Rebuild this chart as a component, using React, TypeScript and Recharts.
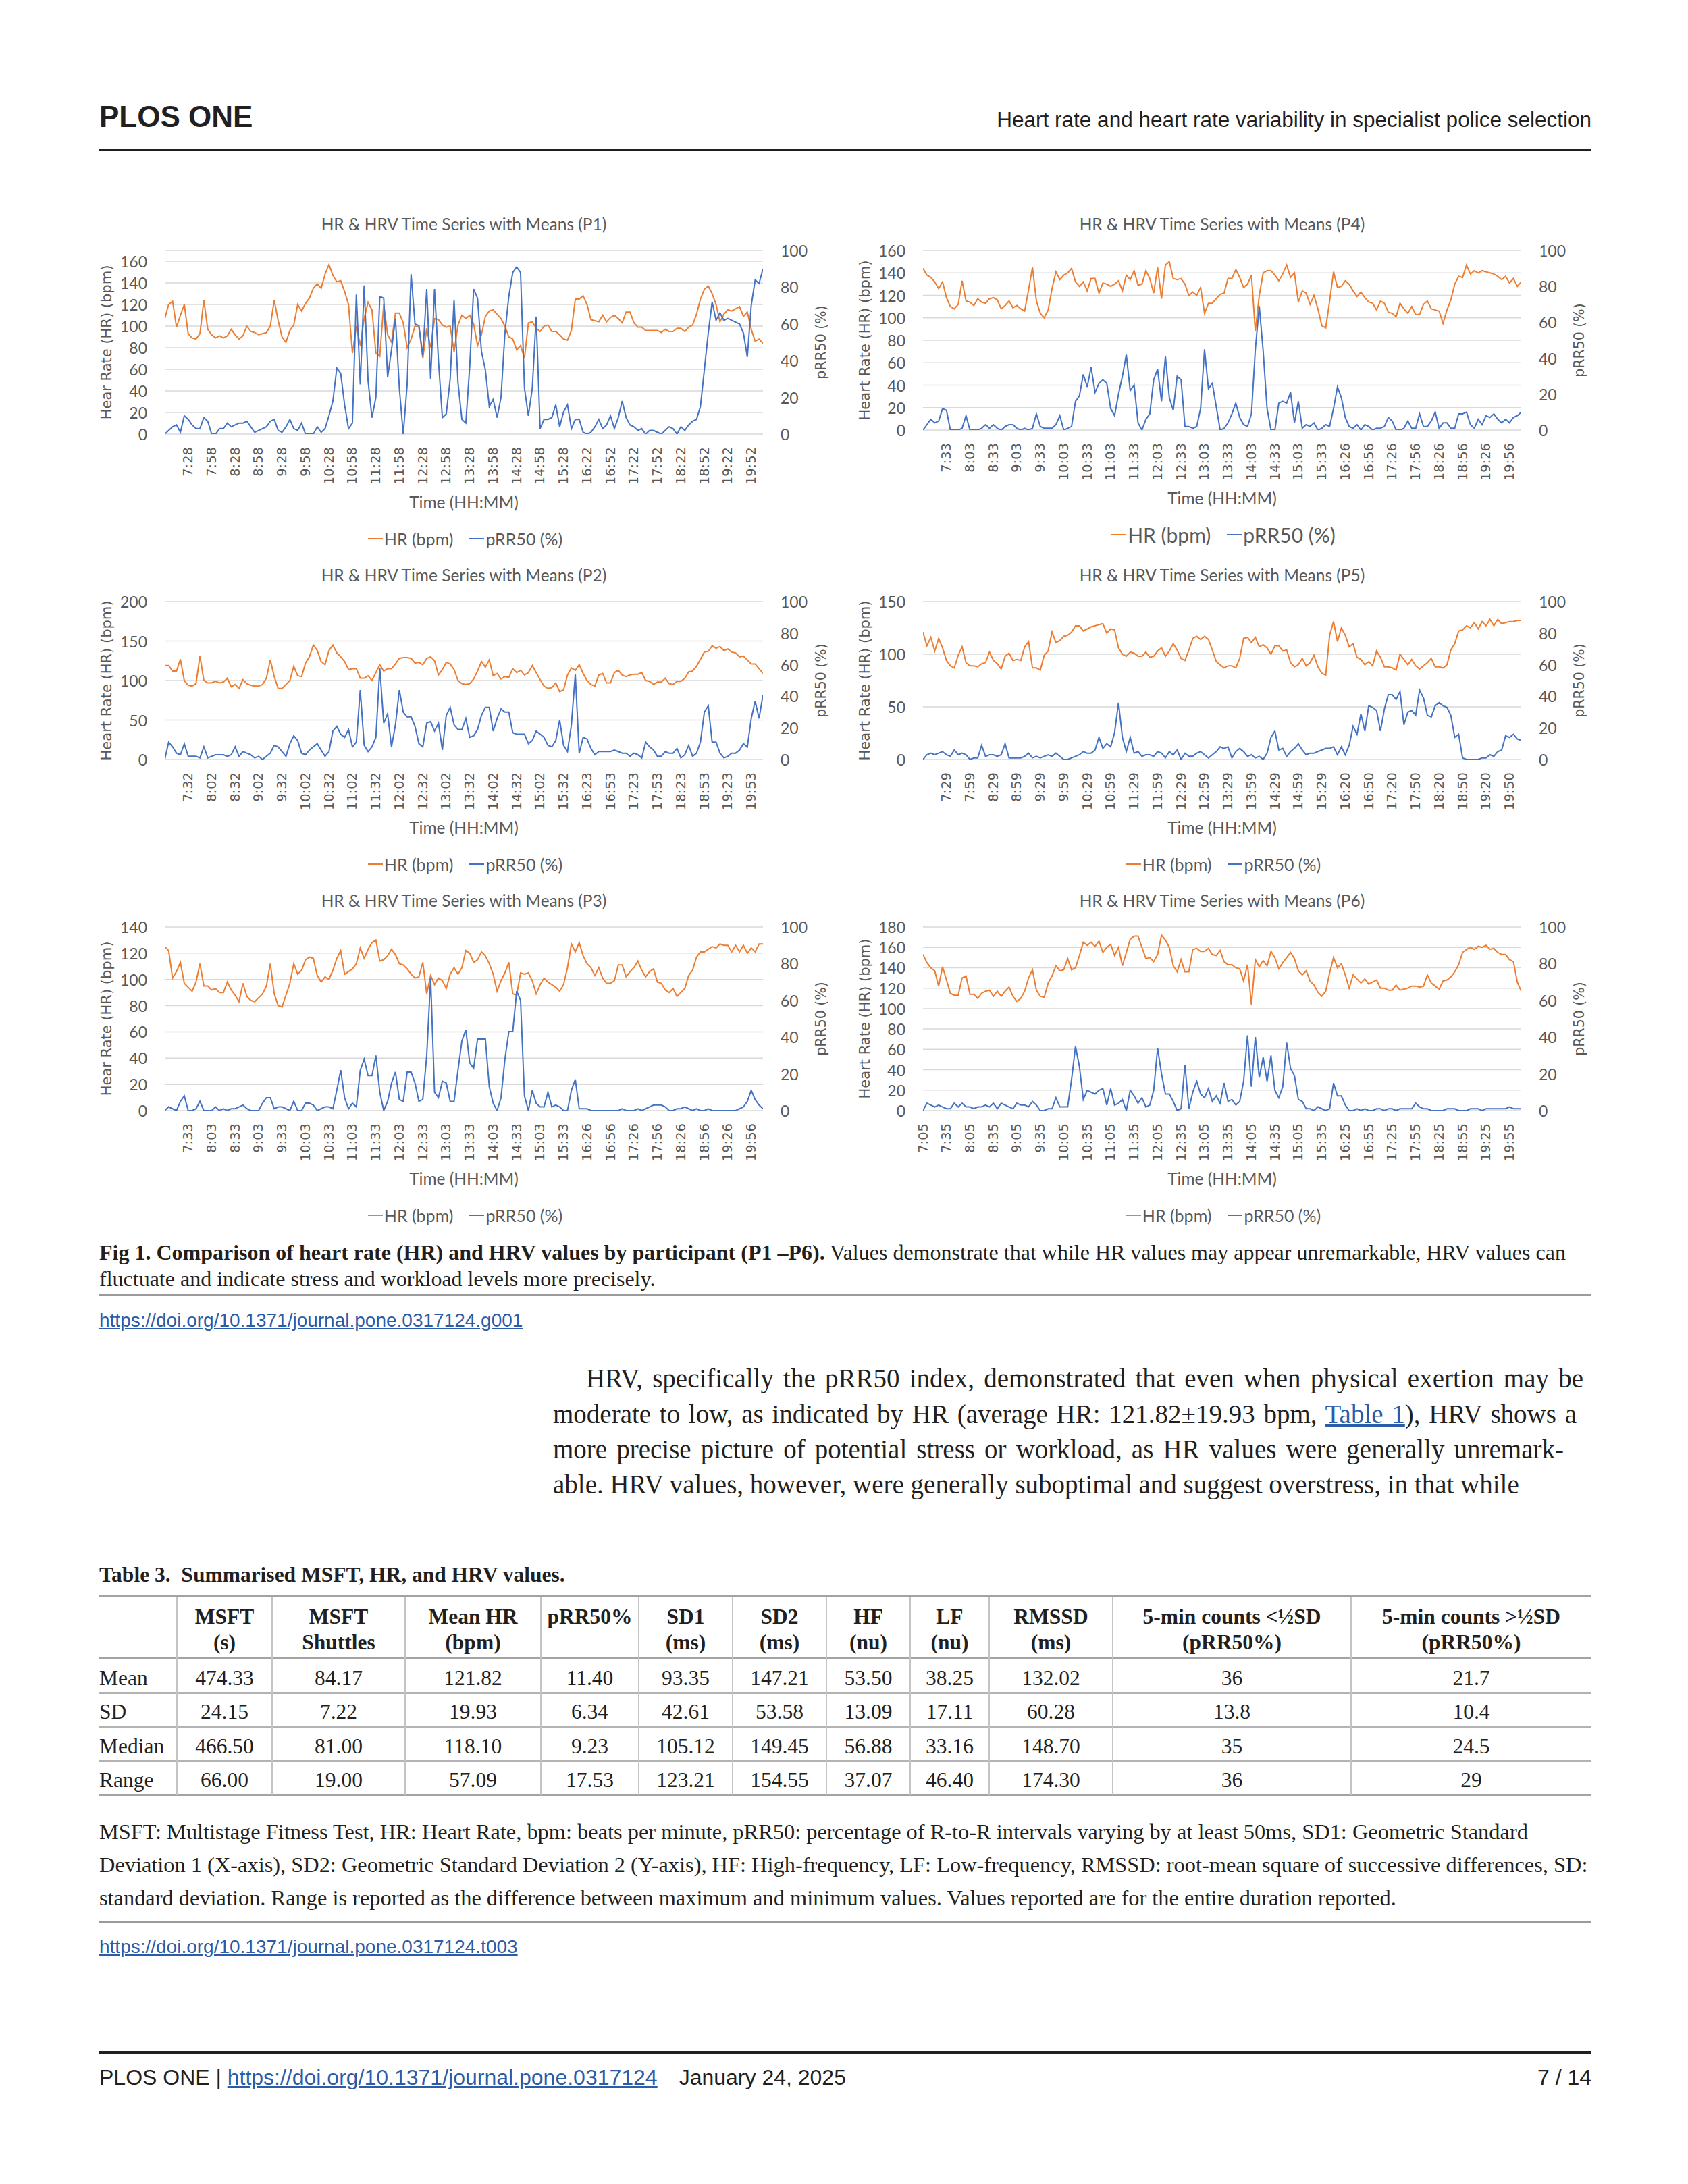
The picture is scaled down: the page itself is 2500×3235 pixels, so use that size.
import React from 'react';
import { LineChart, Line, XAxis, YAxis, CartesianGrid, Legend } from 'recharts';

const SANS = '"Liberation Sans", Arial, Helvetica, sans-serif';
const SERIF = '"Liberation Serif", "Times New Roman", Times, serif';
const CHART_FONT = 'Lato, "Open Sans", sans-serif';
const WIDE_FONT = '"DejaVu Sans", Verdana, sans-serif';
const INK = '#231f20';
const LINK = '#2c5ca8';
const HR_COLOR = '#ED7D31';
const PRR_COLOR = '#4472C4';
const AXIS_TEXT = '#595959';
const GRID = '#D9D9D9';

// ---------------- chart data ----------------
const P1_TIMES = ['7:28','7:58','8:28','8:58','9:28','9:58','10:28','10:58','11:28','11:58','12:28','12:58','13:28','13:58','14:28','14:58','15:28','16:22','16:52','17:22','17:52','18:22','18:52','19:22','19:52'];
const P1_HR = [107,120,123,99,110,120, 93,89,88,93,124,97, 92,89,91,89,91,97, 92,88,91,100,95,94, 92,93,94,100,124,105, 90,85,96,101,120,114, 121,126,135,139,135,148, 157,147,141,142,132,120, 75,100,82,107,122,115, 75,72,120,92,85,112, 112,103,80,88,100,99, 70,98,80,107,106,101, 99,100,76,101,110,107, 110,102,82,92,109,114, 115,111,107,100,90,88, 78,82,70,103,104,98, 95,100,101,95,95,92, 88,87,96,125,125,128, 120,106,105,104,110,104, 108,110,107,103,113,113, 103,99,99,96,96,96, 96,94,97,95,95,98, 98,95,99,101,111,125, 134,137,130,120,104,111, 115,114,116,118,109,113, 97,86,88,84];
const P1_PRR = [0,2,4,5,1,10, 8,5,3,3,9,7, 0,0,3,3,6,4, 5,6,6,7,4,1, 2,3,4,7,8,2, 1,4,8,3,2,6, 0,0,0,4,1,3, 10,18,36,33,16,3, 6,76,27,81,29,9, 20,75,74,31,46,63, 25,0,27,87,60,59, 43,79,30,79,40,9, 11,30,73,28,8,6, 37,79,74,45,35,15, 19,9,20,55,75,88, 91,88,25,10,25,64, 3,8,8,9,16,4, 12,16,3,8,8,1, 0,1,4,8,3,5, 10,3,9,18,9,5, 4,2,3,0,2,2, 1,0,2,4,3,0, 4,2,5,7,8,15, 35,55,72,62,66,62, 63,62,61,60,55,42, 70,84,82,90];

const P4_TIMES = ['7:33','8:03','8:33','9:03','9:33','10:03','10:33','11:03','11:33','12:03','12:33','13:03','13:33','14:03','14:33','15:03','15:33','16:26','16:56','17:26','17:56','18:26','18:56','19:26','19:56'];
const P4_HR = [144,138,136,132,126,132, 118,110,108,112,133,115, 114,111,117,114,113,117, 118,116,108,111,115,109, 111,108,106,125,145,115, 104,100,107,126,141,134, 138,140,144,132,128,132, 124,135,135,122,131,130, 128,130,133,124,138,134, 142,129,130,142,135,122, 145,117,147,150,135,134, 135,130,120,123,120,127, 104,113,113,117,121,122, 135,135,143,136,127,130, 138,88,120,140,142,142, 138,133,139,147,136,140, 114,124,122,112,120,108, 93,91,115,141,127,128, 133,130,124,119,123,118, 114,113,107,115,113,105, 104,101,113,108,104,110, 103,103,112,115,108,107, 106,95,107,116,130,137, 136,147,139,142,140,142, 141,140,139,137,134,137, 131,135,128,132];
const P4_PRR = [0,3,6,4,5,12, 11,0,0,0,1,8, 0,0,0,1,3,1, 3,1,0,2,3,3, 1,0,1,0,1,9, 2,1,1,1,3,8, 0,1,2,16,19,31, 24,35,21,26,28,26, 12,8,20,30,42,22, 25,4,0,6,9,28, 34,16,41,18,11,30, 28,2,2,1,2,12, 45,23,26,13,0,1, 4,9,15,7,3,2, 9,45,69,44,12,0, 0,15,16,15,21,4, 16,1,3,2,4,0, 1,3,2,12,24,18, 7,2,1,3,0,3, 2,0,1,1,2,7, 5,0,0,1,5,1, 1,9,2,2,5,10, 1,4,4,1,1,9, 9,10,3,1,6,3, 8,7,9,6,4,6, 4,7,8,10];

const P2_TIMES = ['7:32','8:02','8:32','9:02','9:32','10:02','10:32','11:02','11:32','12:02','12:32','13:02','13:32','14:02','14:32','15:02','15:32','16:23','16:53','17:23','17:53','18:23','18:53','19:23','19:53'];
const P2_HR = [119,119,112,112,127,100, 94,93,96,131,100,97, 97,99,97,98,103,92, 95,90,101,96,94,93, 93,95,103,126,105,90, 90,95,100,118,106,105, 122,130,145,138,124,120, 138,145,135,130,124,114, 115,115,103,103,106,100, 110,120,112,115,115,121, 128,129,129,128,122,123, 120,128,130,125,107,114, 123,121,114,100,96,95, 96,102,112,124,117,126, 106,109,102,105,104,115, 110,113,107,110,119,110, 101,93,90,91,97,86, 88,107,116,113,120,109, 100,95,93,107,109,97, 97,110,113,107,105,107, 108,108,110,100,99,95, 98,98,103,96,95,99, 99,103,111,112,118,127, 136,137,144,141,143,138, 140,136,135,130,131,126, 121,121,115,109];
const P2_PRR = [0,11,8,4,3,10, 2,2,2,1,8,1, 2,3,3,3,2,3, 8,2,5,4,3,1, 2,0,2,4,9,8, 5,2,10,15,12,4, 3,6,8,10,6,2, 5,18,21,16,14,19, 8,11,44,9,5,8, 14,58,23,29,8,22, 44,30,27,27,21,10, 8,23,24,18,23,6, 28,33,22,19,19,26, 14,15,19,28,33,33, 18,26,32,30,30,17, 16,16,16,10,12,18, 16,14,9,8,12,25, 9,5,22,54,4,14, 13,7,3,5,5,5, 5,6,5,4,4,2, 4,3,1,11,8,6, 2,2,5,4,4,7, 1,3,9,2,4,11, 30,34,11,11,4,1, 2,4,4,6,10,8, 26,37,26,41];

const P5_TIMES = ['7:29','7:59','8:29','8:59','9:29','9:59','10:29','10:59','11:29','11:59','12:29','12:59','13:29','13:59','14:29','14:59','15:29','16:20','16:50','17:20','17:50','18:20','18:50','19:20','19:50'];
const P5_HR = [121,108,116,103,115,106, 94,89,87,99,107,92, 89,89,88,91,92,102, 94,91,86,98,101,94, 95,94,107,112,87,87, 85,99,103,121,111,113, 117,118,121,127,127,122, 124,126,127,128,129,120, 124,123,106,100,98,102, 101,98,98,102,97,98, 103,106,98,103,110,104, 96,94,104,115,117,114, 117,114,104,93,90,87, 89,89,87,96,115,116, 111,116,107,109,106,100, 108,108,103,104,92,88, 90,96,89,92,99,88, 82,80,118,131,112,125, 118,107,110,97,95,90, 93,89,103,97,88,88, 87,85,100,95,90,95, 89,86,89,92,96,88, 88,87,90,104,110,122, 123,127,125,130,124,131, 127,133,127,133,129,130, 131,131,132,132];
const P5_PRR = [0,3,4,3,4,5, 3,2,6,3,4,3, 0,1,1,9,2,3, 3,2,3,10,1,1, 1,1,2,4,1,2, 1,2,3,2,4,2, 0,0,1,2,3,5, 4,4,6,14,7,10, 8,17,36,14,5,14, 4,5,2,3,3,2, 5,4,1,5,3,6, 0,4,2,2,4,5, 3,1,3,5,8,7, 8,1,5,7,5,2, 3,1,2,0,4,14, 18,6,7,2,5,7, 10,6,3,4,4,5, 6,7,7,8,3,8, 3,9,21,16,29,18, 34,33,31,18,32,41, 41,38,43,22,30,31, 28,44,39,28,27,34, 36,34,33,28,14,16, 1,0,0,0,0,1, 1,3,2,5,6,15, 14,16,13,12];

const P3_TIMES = ['7:33','8:03','8:33','9:03','9:33','10:03','10:33','11:03','11:33','12:03','12:33','13:03','13:33','14:03','14:33','15:03','15:33','16:26','16:56','17:26','17:56','18:26','18:56','19:26','19:56'];
const P3_HR = [125,122,101,106,113,97, 94,91,98,112,95,95, 92,93,90,90,98,92, 88,83,97,87,84,83, 86,89,95,112,89,80, 79,88,97,112,104,107, 115,117,116,103,98,102, 100,107,116,122,104,106, 108,112,124,116,123,128, 130,114,115,118,123,119, 112,111,108,104,101,102, 113,89,103,96,101,99, 93,104,109,104,109,122, 120,113,115,121,118,112, 104,91,99,105,113,89, 88,105,104,105,99,89, 96,101,98,96,94,91, 96,109,127,121,128,118, 112,109,103,109,101,97, 97,99,111,111,102,106, 109,114,107,102,106,108, 98,97,92,90,93,87, 90,93,103,107,117,121, 121,123,125,124,127,126, 126,121,126,121,126,120, 124,121,127,127];
const P3_PRR = [0,2,1,0,5,8,0,0,1,5, 0,0,0,2,0,1,0,1,1,2, 3,1,0,0,0,4,7,7,1,2, 2,1,0,5,0,0,4,4,3,0, 1,2,2,1,11,22,7,1,4,2, 22,28,19,19,30,10,0,5,15,21, 6,5,21,21,15,5,6,30,72,10, 7,16,15,5,5,22,38,44,26,23, 39,39,39,13,4,0,7,28,43,43, 65,60,8,0,11,4,2,2,10,2, 3,2,0,0,11,17,1,1,1,0, 0,0,0,0,0,0,0,1,0,0, 0,1,0,1,2,3,3,3,2,0, 0,1,1,2,1,0,1,0,0,1, 0,0,0,0,0,0,0,1,2,5, 11,6,3,1];

const P6_TIMES = ['7:05','7:35','8:05','8:35','9:05','9:35','10:05','10:35','11:05','11:35','12:05','12:35','13:05','13:35','14:05','14:35','15:05','15:35','16:25','16:55','17:25','17:55','18:25','18:55','19:25','19:55'];
const P6_HR = [153,145,140,137,122,141, 128,115,113,113,130,132, 114,114,110,115,117,118, 112,117,112,117,121,112, 107,110,117,130,138,118, 112,111,125,132,142,137, 138,149,138,140,152,165, 162,165,161,166,155,160, 163,152,160,142,155,168, 171,171,160,149,150,146, 153,172,167,160,142,136, 148,136,136,158,159,156, 156,159,153,152,157,146, 143,143,140,139,127,143, 104,148,141,147,142,156, 150,139,145,150,155,149, 137,133,137,127,123,116, 112,117,135,150,140,144, 133,120,133,129,125,129, 124,126,128,120,120,118, 118,123,118,119,120,122, 122,121,122,133,125,122, 119,127,128,131,136,143, 155,158,160,158,161,160, 162,158,159,155,153,153, 148,146,126,117];
const P6_PRR = [0,4,3,2,3,2, 1,1,4,2,4,2, 2,1,2,2,3,2, 4,1,4,3,2,1, 4,3,3,2,5,3, 0,0,1,1,7,2, 2,2,17,35,24,6, 11,10,9,11,12,3, 12,3,4,6,0,11, 8,4,7,2,3,11, 34,20,9,9,5,0, 1,25,1,10,16,9, 7,12,5,8,4,15, 5,6,3,5,16,41, 13,40,18,29,16,30, 11,7,13,37,23,19, 6,5,1,1,0,2, 1,0,1,15,8,8, 3,0,0,1,0,1, 0,0,1,1,0,1, 1,0,1,1,1,1, 4,2,1,1,0,0, 0,0,1,1,1,0, 0,0,1,1,1,0, 1,1,1,1,1,1, 2,1,1,1];

const HR_TICKS_P1 = [0, 20, 40, 60, 80, 100, 120, 140, 160];
const HR_TICKS_P4 = [0, 20, 40, 60, 80, 100, 120, 140, 160];
const HR_TICKS_P2 = [0, 50, 100, 150, 200];
const HR_TICKS_P5 = [0, 50, 100, 150];
const HR_TICKS_P3 = [0, 20, 40, 60, 80, 100, 120, 140];
const HR_TICKS_P6 = [0, 20, 40, 60, 80, 100, 120, 140, 160, 180];
const PRR_TICKS = [0, 20, 40, 60, 80, 100];

// ---------------- table data ----------------
const TABLE_HEAD = [
  ['MSFT', '(s)'], ['MSFT', 'Shuttles'], ['Mean HR', '(bpm)'], ['pRR50%', ''], ['SD1', '(ms)'], ['SD2', '(ms)'],
  ['HF', '(nu)'], ['LF', '(nu)'], ['RMSSD', '(ms)'], ['5-min counts <½SD', '(pRR50%)'], ['5-min counts >½SD', '(pRR50%)'],
];
const ROW_LABELS = ['Mean', 'SD', 'Median', 'Range'];
const ROW_MEAN = ['474.33', '84.17', '121.82', '11.40', '93.35', '147.21', '53.50', '38.25', '132.02', '36', '21.7'];
const ROW_SD = ['24.15', '7.22', '19.93', '6.34', '42.61', '53.58', '13.09', '17.11', '60.28', '13.8', '10.4'];
const ROW_MEDIAN = ['466.50', '81.00', '118.10', '9.23', '105.12', '149.45', '56.88', '33.16', '148.70', '35', '24.5'];
const ROW_RANGE = ['66.00', '19.00', '57.09', '17.53', '123.21', '154.55', '37.07', '46.40', '174.30', '36', '29'];

// ---------------- layout ----------------
const PANELS = [
  { title: 'HR & HRV Time Series with Means (P1)', yTitle: 'Hear Rate (HR) (bpm)', hr: P1_HR, prr: P1_PRR, times: P1_TIMES, first: 6, hrMax: 170, hrTicks: HR_TICKS_P1, left: 134, top: 311, plotH: 272, legendFs: 25 },
  { title: 'HR & HRV Time Series with Means (P4)', yTitle: 'Heart Rate (HR) (bpm)', hr: P4_HR, prr: P4_PRR, times: P4_TIMES, first: 6, hrMax: 160, hrTicks: HR_TICKS_P4, left: 1257, top: 311, plotH: 266, legendFs: 30 },
  { title: 'HR & HRV Time Series with Means (P2)', yTitle: 'Heart Rate (HR) (bpm)', hr: P2_HR, prr: P2_PRR, times: P2_TIMES, first: 6, hrMax: 200, hrTicks: HR_TICKS_P2, left: 134, top: 831, plotH: 234, legendFs: 25 },
  { title: 'HR & HRV Time Series with Means (P5)', yTitle: 'Heart Rate (HR) (bpm)', hr: P5_HR, prr: P5_PRR, times: P5_TIMES, first: 6, hrMax: 150, hrTicks: HR_TICKS_P5, left: 1257, top: 831, plotH: 234, legendFs: 25 },
  { title: 'HR & HRV Time Series with Means (P3)', yTitle: 'Hear Rate (HR) (bpm)', hr: P3_HR, prr: P3_PRR, times: P3_TIMES, first: 6, hrMax: 140, hrTicks: HR_TICKS_P3, left: 134, top: 1313, plotH: 272, legendFs: 25 },
  { title: 'HR & HRV Time Series with Means (P6)', yTitle: 'Heart Rate (HR) (bpm)', hr: P6_HR, prr: P6_PRR, times: P6_TIMES, first: 0, hrMax: 180, hrTicks: HR_TICKS_P6, left: 1257, top: 1313, plotH: 272, legendFs: 25 },
];

const CW = 1110, ML = 110, MR = 114, MT = 60, XH = 136, LH = 38, MB = 8;

function Panel({ p }: { p: any }) {
  const H = MT + p.plotH + XH + LH + MB;
  const plotL = ML;
  const plotR = CW - MR;
  const plotB = MT + p.plotH;
  const n = Math.max(p.hr.length, p.prr.length);
  const rows = Array.from({ length: n }, (_, i) => ({ i, hr: p.hr[i], prr: p.prr[i] }));
  const tickIdx: number[] = p.times.map((_: string, k: number) => p.first + 6 * k);
  const labelOf: Record<number, string> = {};
  tickIdx.forEach((t, k) => { labelOf[t] = p.times[k]; });

  const XTick = (props: any) => {
    const x = props.x;
    const y = plotB + 19;
    return (
      <text x={x} y={y} transform={`rotate(-90 ${x} ${y})`} textAnchor="end" dominantBaseline="central"
        fill={AXIS_TEXT} fontSize={19.5} fontFamily={WIDE_FONT}>{labelOf[props.payload.value]}</text>
    );
  };
  const LTick = (props: any) => (
    <text x={plotL - 26} y={props.y} textAnchor="end" dominantBaseline="central" fill={AXIS_TEXT} fontSize={23} fontFamily={CHART_FONT}>{props.payload.value}</text>
  );
  const RTick = (props: any) => (
    <text x={plotR + 26} y={props.y} textAnchor="start" dominantBaseline="central" fill={AXIS_TEXT} fontSize={23} fontFamily={CHART_FONT}>{props.payload.value}</text>
  );
  const midY = MT + p.plotH / 2;
  const LegendBox = (props: any) => {
    const items = props.payload || [];
    return (
      <div style={{ height: LH, display: 'flex', justifyContent: 'center', alignItems: 'center', gap: 24, fontFamily: CHART_FONT, fontSize: p.legendFs, color: AXIS_TEXT }}>
        {items.map((it: any) => (
          <div key={it.value} style={{ display: 'flex', alignItems: 'center' }}>
            <span style={{ display: 'inline-block', width: 22, height: 2.5, background: it.color, marginRight: 2 }} />
            <span>{it.value}</span>
          </div>
        ))}
      </div>
    );
  };

  return (
    <div style={{ position: 'absolute', left: p.left, top: p.top, width: CW, height: H }}>
      <div style={{ position: 'absolute', left: plotL, width: plotR - plotL, top: 4, height: 34, lineHeight: '34px', textAlign: 'center', fontFamily: CHART_FONT, fontSize: 24.5, color: AXIS_TEXT }}>{p.title}</div>
      <LineChart width={CW} height={H} data={rows} margin={{ top: MT, right: 0, bottom: MB, left: 0 }}>
        <CartesianGrid vertical={false} stroke={GRID} strokeWidth={1.5} />
        <XAxis dataKey="i" type="number" domain={[0, 153]} ticks={tickIdx} interval={0} height={XH}
          tickLine={false} axisLine={false} tick={XTick} allowDataOverflow
          label={() => (
            <text x={(plotL + plotR) / 2} y={plotB + 100} textAnchor="middle" dominantBaseline="central" fill={AXIS_TEXT} fontSize={24.5} fontFamily={CHART_FONT}>Time (HH:MM)</text>
          )} />
        <YAxis orientation="left" width={ML} domain={[0, p.hrMax]} ticks={p.hrTicks} interval={0}
          tickLine={false} axisLine={false} tick={LTick} allowDataOverflow
          label={() => (
            <text x={plotL - 86} y={midY} transform={`rotate(-90 ${plotL - 86} ${midY})`} textAnchor="middle" dominantBaseline="central" fill={AXIS_TEXT} fontSize={21} fontFamily={WIDE_FONT}>{p.yTitle}</text>
          )} />
        <YAxis yAxisId="prr" orientation="right" width={MR} domain={[0, 100]} ticks={PRR_TICKS} interval={0}
          tickLine={false} axisLine={false} tick={RTick} allowDataOverflow
          label={() => (
            <text x={plotR + 86} y={midY} transform={`rotate(-90 ${plotR + 86} ${midY})`} textAnchor="middle" dominantBaseline="central" fill={AXIS_TEXT} fontSize={20.5} fontFamily={WIDE_FONT}>pRR50 (%)</text>
          )} />
        <Line type="linear" dataKey="hr" name="HR (bpm)" stroke={HR_COLOR} strokeWidth={2} dot={false} activeDot={false} isAnimationActive={false} />
        <Line yAxisId="prr" type="linear" dataKey="prr" name="pRR50 (%)" stroke={PRR_COLOR} strokeWidth={2} dot={false} activeDot={false} isAnimationActive={false} />
        <Legend verticalAlign="bottom" align="center" content={LegendBox} />
      </LineChart>
    </div>
  );
}

function T({ x, y, size, family = SERIF, weight = 400, color = INK, right = false, width, justify = false, children }: any) {
  const style: any = {
    position: 'absolute', top: y - size * 0.84, fontSize: size, lineHeight: `${size}px`,
    fontFamily: family, fontWeight: weight, color, whiteSpace: justify ? 'normal' : 'pre',
  };
  if (right) style.right = 2500 - x; else style.left = x;
  if (width) style.width = width;
  if (justify) { style.textAlign = 'justify'; style.textAlignLast = 'justify'; }
  return <div style={style}>{children}</div>;
}

function Rule({ y, h, color, x1 = 147, x2 = 2357 }: any) {
  return <div style={{ position: 'absolute', left: x1, top: y, width: x2 - x1, height: h, background: color }} />;
}

const COL_EDGES = [147, 262, 403, 600, 801, 946, 1085, 1224, 1348, 1465, 1648, 2001, 2357];
const ROW_BASE = [2496, 2546, 2597, 2647];
const ROW_LINES = [2506, 2557, 2607];
const TFS = 31.5;

function Table3() {
  const rows = [ROW_MEAN, ROW_SD, ROW_MEDIAN, ROW_RANGE];
  const cells: any[] = [];
  TABLE_HEAD.forEach((h, c) => {
    const cx = (COL_EDGES[c + 1] + COL_EDGES[c + 2]) / 2;
    h.forEach((line, li) => {
      if (!line) return;
      cells.push(
        <div key={`h${c}-${li}`} style={{ position: 'absolute', left: cx - 200, width: 400, textAlign: 'center', top: (li === 0 ? 2405 : 2443) - TFS * 0.84, fontSize: TFS, lineHeight: `${TFS}px`, fontFamily: SERIF, fontWeight: 700, color: INK, whiteSpace: 'nowrap' }}>{line}</div>
      );
    });
  });
  rows.forEach((r, ri) => {
    cells.push(<T key={`l${ri}`} x={147} y={ROW_BASE[ri]} size={TFS}>{ROW_LABELS[ri]}</T>);
    r.forEach((v, c) => {
      const cx = (COL_EDGES[c + 1] + COL_EDGES[c + 2]) / 2;
      cells.push(
        <div key={`c${ri}-${c}`} style={{ position: 'absolute', left: cx - 150, width: 300, textAlign: 'center', top: ROW_BASE[ri] - TFS * 0.84, fontSize: TFS, lineHeight: `${TFS}px`, fontFamily: SERIF, color: INK, whiteSpace: 'nowrap' }}>{v}</div>
      );
    });
  });
  return (
    <>
      <T x={147} y={2343} size={31.5} weight={700}>{'Table 3.  Summarised MSFT, HR, and HRV values.'}</T>
      <Rule y={2363} h={3} color="#a3a3a3" />
      <Rule y={2454} h={3} color="#a3a3a3" />
      {ROW_LINES.map((y) => <Rule key={y} y={y} h={3} color="#b3b3b3" />)}
      <Rule y={2658} h={3} color="#a3a3a3" />
      {COL_EDGES.slice(1, 12).map((x) => (
        <div key={x} style={{ position: 'absolute', left: x - 1, top: 2365, width: 2, height: 294, background: '#c4c4c4' }} />
      ))}
      {cells}
    </>
  );
}

export default function App() {
  return (
    <div style={{ position: 'absolute', left: 0, top: 0, width: 2500, height: 3235, background: '#ffffff', overflow: 'hidden' }}>
      {/* header */}
      <T x={147} y={188} size={44} family={SANS} weight={700}>PLOS ONE</T>
      <T x={2357} y={188} size={31.5} family={SANS} right>Heart rate and heart rate variability in specialist police selection</T>
      <Rule y={220} h={4} color={INK} />

      {PANELS.map((p, k) => <Panel key={k} p={p} />)}

      {/* figure caption */}
      <T x={147} y={1866} size={32}>
        <b>Fig 1. Comparison of heart rate (HR) and HRV values by participant (P1 –P6).</b>{' Values demonstrate that while HR values may appear unremarkable, HRV values can'}
      </T>
      <T x={147} y={1905} size={32}>fluctuate and indicate stress and workload levels more precisely.</T>
      <Rule y={1916} h={3} color="#9b9b9b" />
      <T x={147} y={1966} size={28} family={SANS} color={LINK}><span style={{ textDecoration: 'underline' }}>https://doi.org/10.1371/journal.pone.0317124.g001</span></T>

      {/* body paragraph */}
      <T x={868} y={2055} size={39} width={1477} justify>HRV, specifically the pRR50 index, demonstrated that even when physical exertion may be</T>
      <T x={819} y={2108} size={39} width={1516} justify>moderate to low, as indicated by HR (average HR: 121.82±19.93 bpm, <span style={{ color: LINK, textDecoration: 'underline' }}>Table 1</span>), HRV shows a</T>
      <T x={819} y={2160} size={39} width={1497} justify>more precise picture of potential stress or workload, as HR values were generally unremark-</T>
      <T x={819} y={2212} size={39}>able. HRV values, however, were generally suboptimal and suggest overstress, in that while</T>

      <Table3 />

      {/* table footnote */}
      <T x={147} y={2724} size={32.4}>MSFT: Multistage Fitness Test, HR: Heart Rate, bpm: beats per minute, pRR50: percentage of R-to-R intervals varying by at least 50ms, SD1: Geometric Standard</T>
      <T x={147} y={2773} size={32.4}>Deviation 1 (X-axis), SD2: Geometric Standard Deviation 2 (Y-axis), HF: High-frequency, LF: Low-frequency, RMSSD: root-mean square of successive differences, SD:</T>
      <T x={147} y={2822} size={32.4}>standard deviation. Range is reported as the difference between maximum and minimum values. Values reported are for the entire duration reported.</T>
      <Rule y={2845} h={3} color="#9b9b9b" />
      <T x={147} y={2894} size={28} family={SANS} color={LINK}><span style={{ textDecoration: 'underline' }}>https://doi.org/10.1371/journal.pone.0317124.t003</span></T>

      {/* footer */}
      <Rule y={3038} h={4} color={INK} />
      <T x={147} y={3088} size={32} family={SANS}>
        {'PLOS ONE | '}<span style={{ color: LINK, textDecoration: 'underline' }}>https://doi.org/10.1371/journal.pone.0317124</span>
        <span style={{ marginLeft: 32 }}>January 24, 2025</span>
      </T>
      <T x={2357} y={3088} size={32} family={SANS} right>7 / 14</T>
    </div>
  );
}
